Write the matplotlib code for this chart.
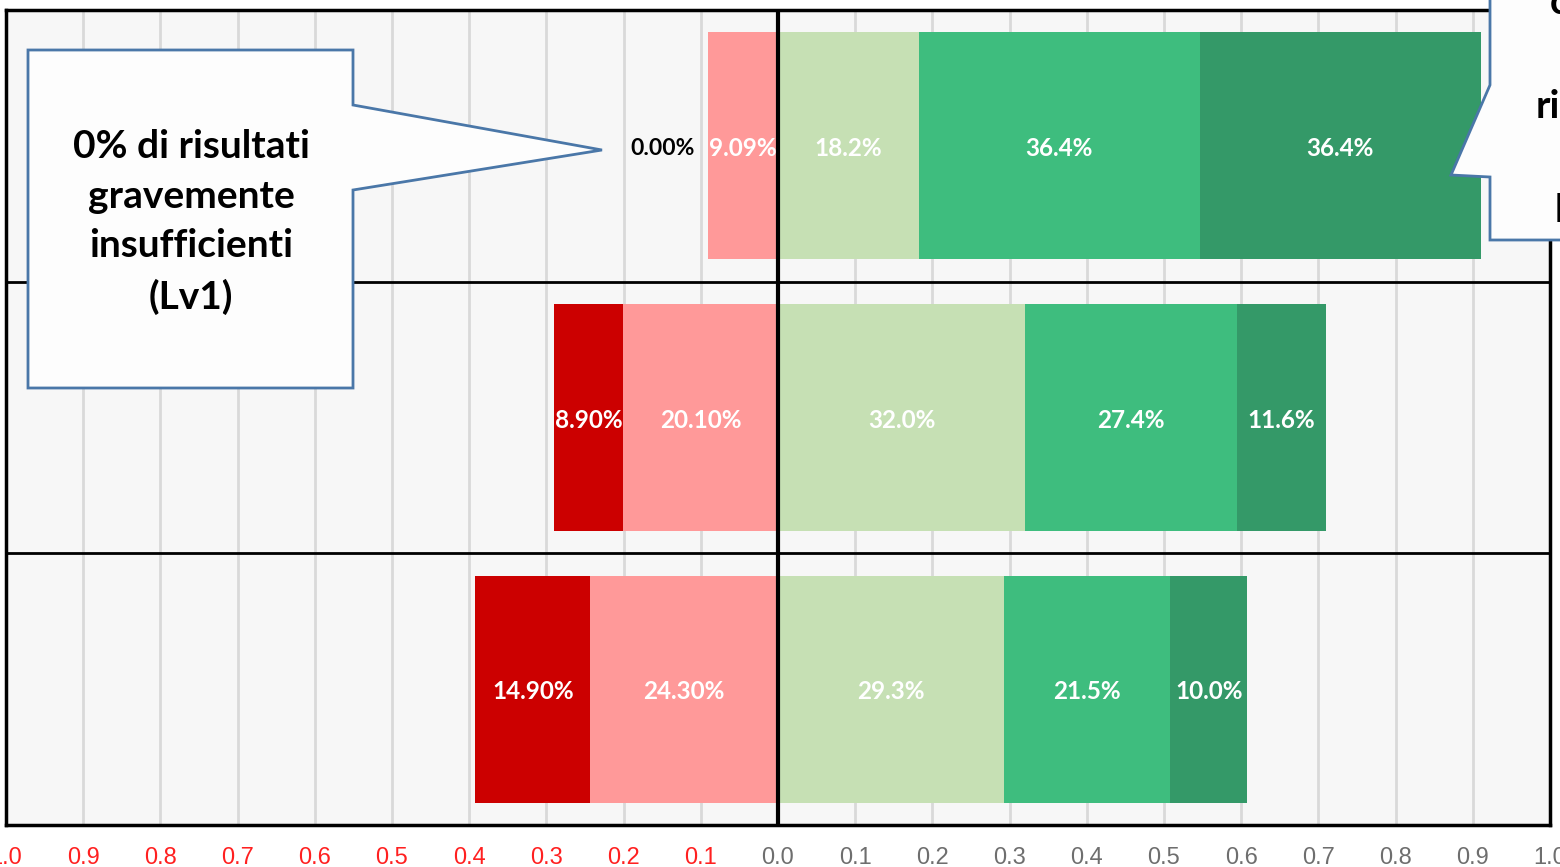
import numpy as np
import matplotlib
matplotlib.use("Agg")
import matplotlib.pyplot as plt
from matplotlib.patches import Polygon

# data, top row first (values in %)
lv1 = [0.00, 8.90, 14.90]
lv2 = [9.09, 20.10, 24.30]
lv3 = [18.2, 32.0, 29.3]
lv4 = [36.4, 27.4, 21.5]
lv5 = [36.4, 11.6, 10.0]

tick_values = np.round(np.arange(-1.0, 1.01, 0.1), 1)
tick_labels = [f"{abs(v):.1f}" for v in tick_values]

col_lv1 = "#CC0000"
col_lv2 = "#FF9999"
col_lv3 = "#C6E0B4"
col_lv4 = "#3EBD7E"
col_lv5 = "#349968"

W, H = 1560, 867
fig = plt.figure(figsize=(W / 100, H / 100), dpi=100)
ax = fig.add_axes([6 / W, 1 - 825 / H, 1544 / W, 815 / H])
ax.set_facecolor("#F7F7F7")
ax.set_xlim(-1.0, 1.0)
ax.set_ylim(3, 0)

rows = np.arange(len(lv1)) + 0.5
bh = 0.835
a1 = np.array(lv1) / 100
a2 = np.array(lv2) / 100
a3 = np.array(lv3) / 100
a4 = np.array(lv4) / 100
a5 = np.array(lv5) / 100

ax.barh(rows, -a2, left=0, height=bh, color=col_lv2, zorder=2)
ax.barh(rows, -a1, left=-a2, height=bh, color=col_lv1, zorder=2)
ax.barh(rows, a3, left=0, height=bh, color=col_lv3, zorder=2)
ax.barh(rows, a4, left=a3, height=bh, color=col_lv4, zorder=2)
ax.barh(rows, a5, left=a3 + a4, height=bh, color=col_lv5, zorder=2)

fam = ["Lato", "DejaVu Sans"]
lbl = dict(color="white", fontsize=17.5, fontweight="bold", family=fam,
           va="center", ha="center", zorder=5)
for i, y in enumerate(rows):
    yl = y + 0.01
    # negative side
    if a1[i] > 0:
        ax.text(-a2[i] - a1[i] / 2, yl, f"{lv1[i]:.2f}%", **lbl)
    else:
        ax.text(-a2[i] - 0.017, yl, f"{lv1[i]:.2f}%", color="black", fontsize=16.5,
                fontweight="bold", family=fam, va="center", ha="right", zorder=5)
    ax.text(-a2[i] / 2, yl, f"{lv2[i]:.2f}%", **lbl)
    ax.text(a3[i] / 2, yl, f"{lv3[i]:.1f}%", **lbl)
    ax.text(a3[i] + a4[i] / 2, yl, f"{lv4[i]:.1f}%", **lbl)
    ax.text(a3[i] + a4[i] + a5[i] / 2, yl, f"{lv5[i]:.1f}%", **lbl)

# grid and separators
for v in tick_values:
    ax.axvline(v, color="#D9D9D9", lw=2, zorder=1)
ax.axvline(0, color="black", lw=3, zorder=3)
for yy in [1, 2]:
    ax.axhline(yy, color="black", lw=2, zorder=1.5)
for s in ax.spines.values():
    s.set_linewidth(2.5)
    s.set_color("black")

ax.set_yticks([])
ax.set_xticks(tick_values)
ax.set_xticklabels(tick_labels, family=["Liberation Sans Narrow", "Liberation Sans", "DejaVu Sans"],
                   fontsize=17)
ax.tick_params(axis="x", length=0, pad=16)
for t, v in zip(ax.get_xticklabels(), tick_values):
    t.set_color("#FF2020" if v < 0 else "#6E6E6E")


def px(pts):
    return [(x / W, 1 - y / H) for x, y in pts]


# left callout
left_call = [(28, 50), (353, 50), (353, 105), (602, 150), (353, 190), (353, 388), (28, 388)]
fig.patches.append(Polygon(px(left_call), closed=True, transform=fig.transFigure,
                           facecolor="#FDFDFD", edgecolor="#4A77A8", lw=2, zorder=10))
fig.text(191 / W, 1 - 222 / H, "0% di risultati\ngravemente\ninsufficienti\n(Lv1)",
         ha="center", va="center", fontsize=28, fontweight="bold", linespacing=1.5,
         family=fam, zorder=11)

# right callout, mostly outside the picture
right_call = [(1490, -10), (1800, -10), (1800, 240), (1490, 240), (1490, 177), (1451, 175), (1490, 85)]
fig.patches.append(Polygon(px(right_call), closed=True, transform=fig.transFigure,
                           facecolor="#FDFDFD", edgecolor="#4A77A8", lw=2, zorder=10))
rc = dict(ha="left", va="center", fontsize=28, fontweight="bold", family=fam, zorder=11)
fig.text(1550 / W, 1 - 3 / H, "con", **rc)
fig.text(1536 / W, 1 - 106 / H, "risultati", **rc)
fig.text(1555 / W, 1 - 210 / H, "livelli", **rc)

fig.savefig("out.png", dpi=100)
